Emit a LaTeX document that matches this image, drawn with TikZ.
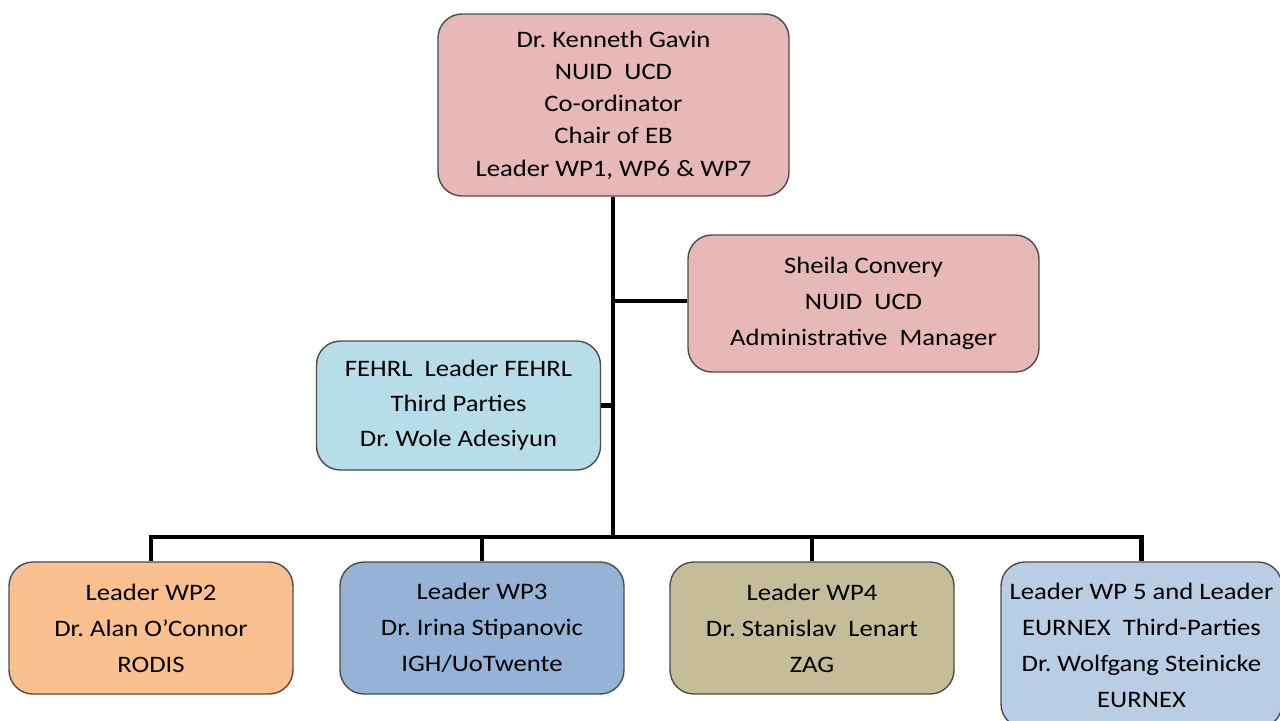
\documentclass[tikz,border=0pt]{standalone}
\usepackage{fontspec}
\setmainfont{Carlito}[FakeStretch=1.13]
\usetikzlibrary{positioning}
\definecolor{kgpink}{HTML}{E6B8B7}
\definecolor{fehrlblue}{HTML}{B7DEE8}
\definecolor{wptwo}{HTML}{FAC090}
\definecolor{wpthree}{HTML}{95B3D7}
\definecolor{wpfour}{HTML}{C4BD97}
\definecolor{wpfive}{HTML}{B9CDE5}
\frenchspacing

\begin{document}
\begin{tikzpicture}[x=0.5pt, y=-0.5pt,
    box/.style={draw=black!70, line width=0.7pt, rounded corners=12pt,
                minimum width=142pt, minimum height=66pt, inner sep=0pt,
                align=center, font=\fontsize{11.8}{18}\selectfont},
    link/.style={line width=2.4pt},
  ]
    \useasboundingbox (0,0) rectangle (1280,720);

    \node[box, fill=kgpink, minimum width=175.5pt, minimum height=91pt,
          font=\fontsize{11.8}{16.1}\selectfont] (kg) at (613.5,105)
      {Dr. Kenneth Gavin\\NUID~~UCD\\Co-ordinator\\Chair of EB\\Leader WP1, WP6 \& WP7};
    \node[box, fill=kgpink, minimum width=175.5pt, minimum height=68.5pt] (sc) at (863.5,303.5)
      {Sheila Convery\\NUID~~UCD\\Administrative~~Manager};
    \node[box, fill=fehrlblue, minimum height=64.5pt,
          font=\fontsize{11.8}{17.5}\selectfont] (fehrl) at (458.5,405.5)
      {FEHRL~~Leader FEHRL\\Third Parties\\Dr. Wole Adesiyun};

    \node[box, fill=wptwo]   (wp2) at (151,628)
      {Leader WP2\\Dr. Alan O’Connor\\RODIS};
    \node[box, fill=wpthree] (wp3) at (482,628)
      {Leader WP3\\Dr. Irina Stipanovic\\IGH/UoTwente};
    \node[box, fill=wpfour]  (wp4) at (812,628)
      {Leader WP4\\Dr. Stanislav~~Lenart\\ZAG};
    \node[box, fill=wpfive, minimum width=140.5pt, minimum height=83pt] (wp5) at (1141.5,645)
      {Leader WP 5 and Leader\\EURNEX~~Third-Parties\\Dr. Wolfgang Steinicke\\EURNEX};

    \coordinate (bus) at (613,537);

    \draw[link] (kg.south -| bus) -- (bus);
    \draw[link] (sc.west) ++(0,-2.5) -- +(-75,0);
    \draw[link] (fehrl.east) -- (fehrl.east -| bus);
    \draw[link] (wp2.north) |- (bus) -| (wp5.north);
    \draw[link] (wp3.north) -- (wp3.north |- bus);
    \draw[link] (wp4.north) -- (wp4.north |- bus);
  \end{tikzpicture}
\end{document}
